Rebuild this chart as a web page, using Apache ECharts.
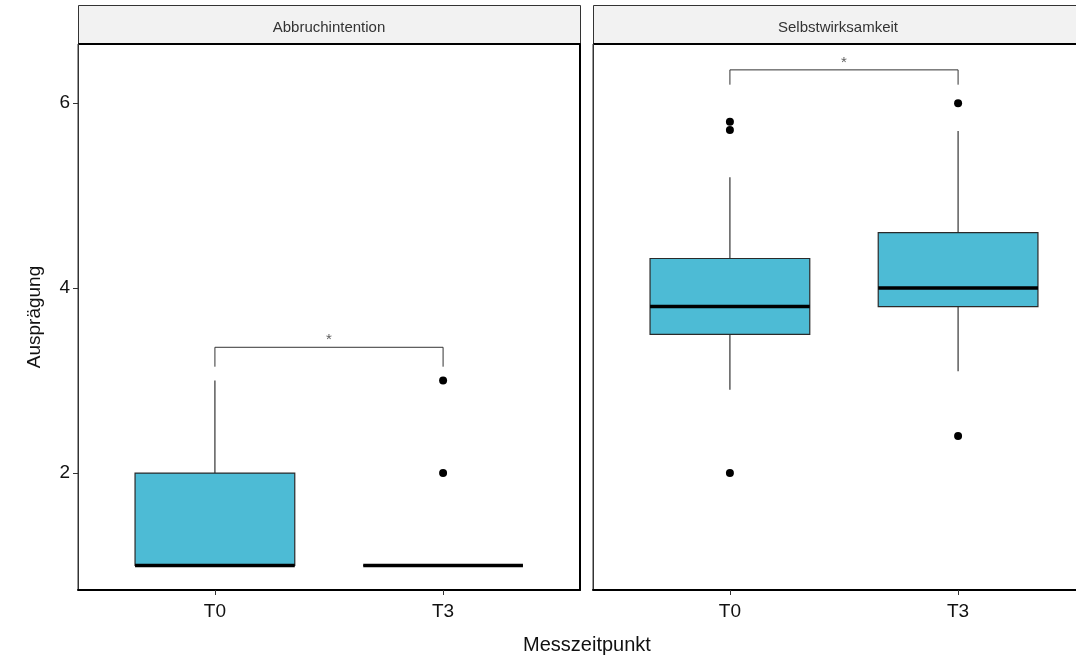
<!DOCTYPE html>
<html>
<head>
<meta charset="utf-8">
<script src="https://cdn.jsdelivr.net/npm/echarts@6/dist/echarts.min.js"></script>
<style>
  html, body { margin: 0; padding: 0; background: #fff; }
  #chart { width: 1076px; height: 658px; }
</style>
</head>
<body>
<div id="chart"></div>
<script>
// facets and time points
const facets = ['Abbruchintention', 'Selbstwirksamkeit']
const periods = ['T0', 'T3']
const yTicks = [2, 4, 6]

// box stats per period: [min, q1, median, q3, max]
const abbruchBox = [[1, 1, 1, 2, 3], [1, 1, 1, 1, 1]]
const selbstBox = [[2.9, 3.5, 3.8, 4.32, 5.2], [3.1, 3.8, 4.0, 4.6, 5.7]]

// outliers: [period index (1-based), value]
const abbruchOutliers = [[2, 2], [2, 3]]
const selbstOutliers = [[1, 5.8], [1, 5.71], [1, 2.0], [2, 6.0], [2, 2.4]]

// significance brackets: [foot, top]
const abbruchBracket = [3.15, 3.36]
const selbstBracket = [6.2, 6.36]

const fill = '#4DBBD5'
const halfWidth = 0.35
const font = 'Liberation Sans, Arial, sans-serif'

const chart = echarts.init(document.getElementById('chart'))

function boxData(stats) {
  return stats.map((s, i) => [i + 1].concat(s))
}

function renderBox(params, api) {
  const x = api.value(0)
  const lo = api.coord([x - halfWidth, api.value(2)])
  const hi = api.coord([x + halfWidth, api.value(4)])
  const medL = api.coord([x - halfWidth, api.value(3)])
  const medR = api.coord([x + halfWidth, api.value(3)])
  const wMin = api.coord([x, api.value(1)])
  const wMax = api.coord([x, api.value(5)])
  const line = { stroke: '#333', lineWidth: 1.2 }
  return {
    type: 'group',
    children: [
      { type: 'line', shape: { x1: wMax[0], y1: wMax[1], x2: wMax[0], y2: hi[1] }, style: line },
      { type: 'line', shape: { x1: wMin[0], y1: lo[1], x2: wMin[0], y2: wMin[1] }, style: line },
      { type: 'rect', shape: { x: lo[0], y: hi[1], width: hi[0] - lo[0], height: lo[1] - hi[1] },
        style: { fill: fill, stroke: '#2a2a2a', lineWidth: 1.2 } },
      { type: 'line', shape: { x1: medL[0], y1: medL[1], x2: medR[0], y2: medR[1] },
        style: { stroke: '#000', lineWidth: 3.5 } }
    ]
  }
}

function bracketLine(b) {
  return [[1, b[0]], [1, b[1]], [2, b[1]], [2, b[0]]]
}

// both panels are 502px wide; the second one runs past the right edge
const panelW = 502
const grids = [
  { left: 78, width: panelW, top: 44, bottom: 68 },
  { left: 593, width: panelW, top: 44, bottom: 68 }
]

const xAxes = grids.map((g, i) => ({
  type: 'value',
  gridIndex: i,
  min: 0.4,
  max: 2.6,
  splitLine: { show: false },
  axisLine: { show: true, onZero: false, lineStyle: { color: '#000', width: 2 } },
  axisTick: { show: true, customValues: [1, 2], length: 5, lineStyle: { color: '#333', width: 1 } },
  axisLabel: {
    customValues: [1, 2],
    formatter: v => periods[Math.round(v) - 1],
    fontSize: 19, color: '#111', margin: 12, fontFamily: font
  }
}))

const yAxes = []
grids.forEach((g, i) => {
  yAxes.push({
    type: 'value',
    gridIndex: i,
    min: 0.735,
    max: 6.64,
    splitLine: { show: false },
    axisLine: { show: true, onZero: false, lineStyle: { color: '#333', width: 1 } },
    axisTick: { show: i === 0, customValues: yTicks, length: 5, lineStyle: { color: '#333' } },
    axisLabel: {
      show: i === 0, customValues: yTicks,
      fontSize: 19, color: '#111', margin: 8, fontFamily: font
    },
    name: i === 0 ? 'Ausprägung' : '',
    nameLocation: 'middle',
    nameGap: 34,
    nameTextStyle: { fontSize: 19, color: '#111', fontFamily: font }
  })
  // right panel edge
  yAxes.push({
    type: 'value',
    gridIndex: i,
    position: 'right',
    min: 0.735,
    max: 6.64,
    splitLine: { show: false },
    axisLine: { show: true, onZero: false, lineStyle: { color: '#000', width: 2 } },
    axisTick: { show: false },
    axisLabel: { show: false }
  })
})

const boxes = [abbruchBox, selbstBox]
const outliers = [abbruchOutliers, selbstOutliers]
const brackets = [abbruchBracket, selbstBracket]

const series = []
for (let i = 0; i < 2; i++) {
  const yi = i * 2
  series.push({
    type: 'custom',
    xAxisIndex: i, yAxisIndex: yi,
    renderItem: renderBox,
    data: boxData(boxes[i]),
    silent: true
  })
  series.push({
    type: 'scatter',
    xAxisIndex: i, yAxisIndex: yi,
    symbol: 'circle', symbolSize: 8,
    itemStyle: { color: '#000', opacity: 1 },
    data: outliers[i]
  })
  series.push({
    type: 'line',
    xAxisIndex: i, yAxisIndex: yi,
    symbol: 'none',
    lineStyle: { color: '#333', width: 1 },
    data: bracketLine(brackets[i]),
    silent: true
  })
  series.push({
    type: 'scatter',
    xAxisIndex: i, yAxisIndex: yi,
    symbolSize: 0,
    data: [[1.5, brackets[i][1]]],
    label: {
      show: true, formatter: '*', position: 'top', distance: 0,
      fontSize: 15, color: '#333', fontFamily: font
    }
  })
}

const stripTop = 5
const stripH = 39
const strips = []
grids.forEach((g, i) => {
  const x = g.left
  const w = g.width
  strips.push({
    type: 'rect', left: x, top: stripTop,
    shape: { width: w, height: stripH },
    style: { fill: '#F2F2F2', stroke: '#333', lineWidth: 1 }
  })
  strips.push({
    type: 'rect', left: x, top: stripTop + stripH - 1,
    shape: { width: w, height: 2 },
    style: { fill: '#000' }
  })
  strips.push({
    type: 'text', x: i === 0 ? x + w / 2 : 838, y: stripTop + stripH / 2 + 3,
    style: {
      text: facets[i], fill: '#333', fontSize: 15, fontFamily: font,
      textAlign: 'center', textVerticalAlign: 'middle'
    }
  })
})
strips.push({
  type: 'text', x: 587, y: 645,
  style: {
    text: 'Messzeitpunkt', fill: '#111', fontSize: 20, fontFamily: font,
    textAlign: 'center', textVerticalAlign: 'middle'
  }
})

const option = {
  animation: false,
  grid: grids.map(g => Object.assign({
    show: true, borderColor: '#333', borderWidth: 1, backgroundColor: '#fff',
    outerBoundsMode: 'none', containLabel: false
  }, g)),
  xAxis: xAxes,
  yAxis: yAxes,
  series: series,
  graphic: strips
}
option && chart.setOption(option)
</script>
</body>
</html>
